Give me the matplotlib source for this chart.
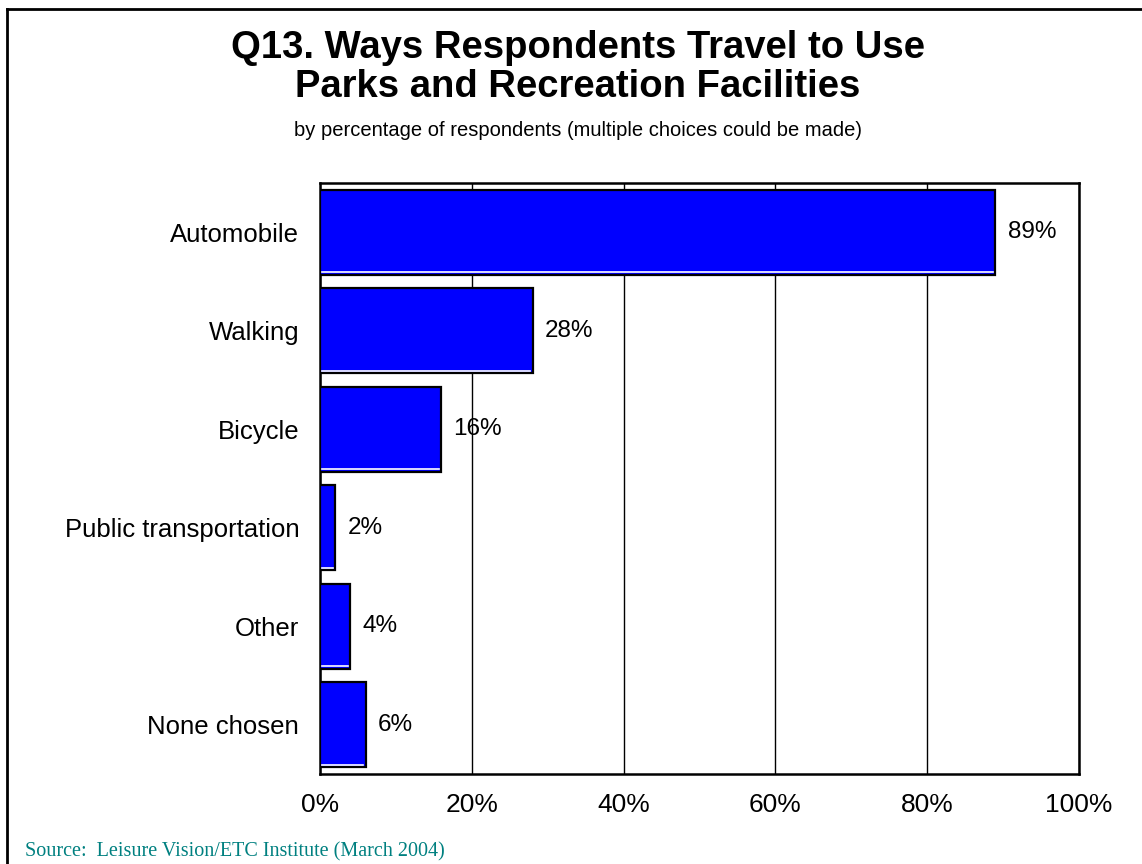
import matplotlib.pyplot as plt
from matplotlib.lines import Line2D

categories = ['Automobile', 'Walking', 'Bicycle', 'Public transportation', 'Other', 'None chosen']
percents = [89, 28, 16, 2, 4, 6]
tick_values = [0, 20, 40, 60, 80, 100]

plt.rcParams['font.family'] = ['Liberation Sans', 'DejaVu Sans']

fig = plt.figure(figsize=(11.42, 8.64), dpi=100)
ax = fig.add_axes([0.2802, 0.1042, 0.6646, 0.6840])

ypos = list(range(len(categories)))
bar_h = 0.86
ax.barh(ypos, percents, height=bar_h, color='#0000ff', edgecolor='black',
        linewidth=1.6, zorder=3)
# thin white highlight along the bottom of each bar
for y, p in zip(ypos, percents):
    ax.plot([0.2, p - 0.3], [y + bar_h / 2 - 0.025] * 2, color='white', lw=1.2, zorder=4)
    ax.text(p + 1.6, y, f'{p}%', va='center', ha='left', fontsize=17.5, zorder=5)

ax.set_xlim(0, 100)
ax.set_ylim(len(categories) - 0.5, -0.5)
ax.set_xticks(tick_values)
ax.set_xticklabels([f'{t}%' for t in tick_values], fontsize=19)
ax.set_yticks(ypos)
ax.set_yticklabels(categories, fontsize=18.5)
ax.tick_params(length=0)
ax.tick_params(axis='x', pad=14)
ax.tick_params(axis='y', pad=15)
ax.xaxis.grid(True, color='black', linewidth=1.0, zorder=0)
ax.set_axisbelow(True)
for s in ax.spines.values():
    s.set_linewidth(1.8)

fig.text(0.5057, 0.945, 'Q13. Ways Respondents Travel to Use', ha='center', va='center',
         fontsize=27.5, fontweight='bold')
fig.text(0.5057, 0.899, 'Parks and Recreation Facilities', ha='center', va='center',
         fontsize=27.5, fontweight='bold')
fig.text(0.5057, 0.849, 'by percentage of respondents (multiple choices could be made)',
         ha='center', va='center', fontsize=14.5)
fig.text(0.022, 0.014, 'Source:  Leisure Vision/ETC Institute (March 2004)', ha='left',
         va='center', fontsize=14.5, color='#008080', family='Liberation Serif')

# outer frame along the top and left edges
fig.add_artist(Line2D([0.006, 1.0], [0.9895, 0.9895], color='black', lw=2,
                      transform=fig.transFigure))
fig.add_artist(Line2D([0.006, 0.006], [0.0, 0.9895], color='black', lw=2,
                      transform=fig.transFigure))

fig.savefig('out.png', dpi=100)
